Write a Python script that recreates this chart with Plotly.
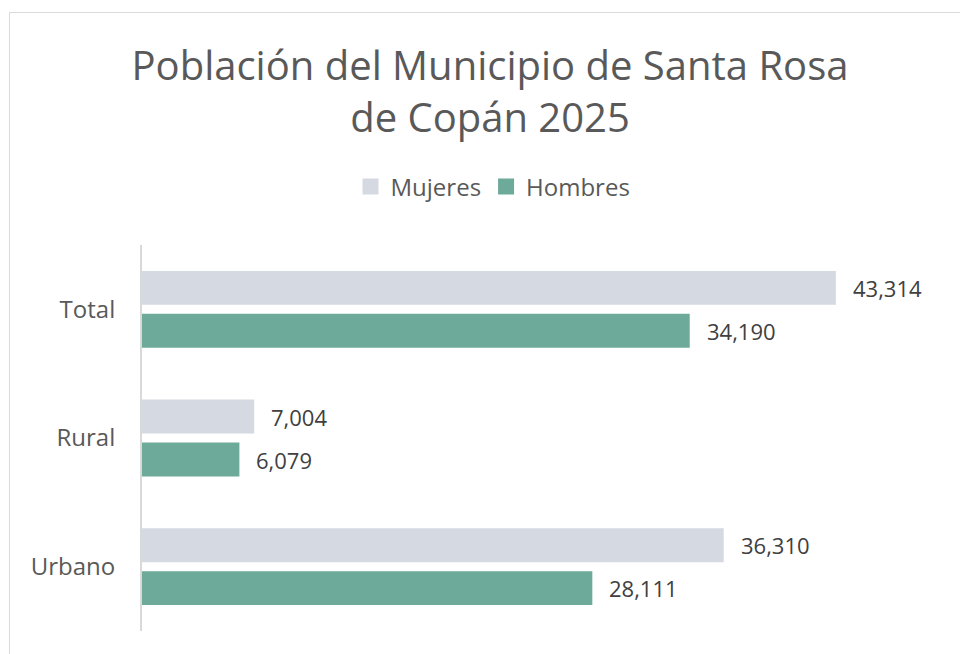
import plotly.graph_objects as go

categories = ["Total", "Rural", "Urbano"]
mujeres = [43314, 7004, 36310]
hombres = [34190, 6079, 28111]
series_names = ["Mujeres", "Hombres"]
title_text = "Población del Municipio de Santa Rosa<br>de Copán 2025"

col_m = "#d5d9e2"
col_h = "#6eaa9a"
FONT = "Open Sans"

fig = go.Figure()
for name, vals, col in ((series_names[0], mujeres, col_m), (series_names[1], hombres, col_h)):
    fig.add_trace(go.Bar(y=categories, x=vals, name=name, orientation="h", showlegend=False,
                         hoverinfo="x+y", marker=dict(color=col, line=dict(width=0))))
# legend entries with larger square symbols
for name, col in ((series_names[0], col_m), (series_names[1], col_h)):
    fig.add_trace(go.Scatter(x=[None], y=[None], mode="markers", name=name,
                             marker=dict(symbol="square", size=16, color=col)))

# data labels placed at end of each bar
annotations = []
for series, shift in ((mujeres, 21.5), (hombres, -21.5)):
    for cat, val in zip(categories, series):
        annotations.append(dict(x=val, y=cat, xref="x", yref="y", text=f"{val:,}",
                                showarrow=False, xanchor="left", yanchor="middle",
                                xshift=15, yshift=shift,
                                font=dict(family=FONT, size=22, color="#404040")))

W, H = 960, 654
ml, mr, mt, mb = 142, 17, 245, 23
pw, ph = W - ml - mr, H - mt - mb
def px_to_paper_x(px):
    return (px - ml) / pw
def py_to_paper_y(py):
    return (H - mb - py) / ph

shapes = [
    dict(type="line", xref="paper", yref="paper", x0=px_to_paper_x(9.5), x1=px_to_paper_x(9.5),
         y0=py_to_paper_y(12.5), y1=py_to_paper_y(700), line=dict(color="#d9d9d9", width=1)),
    dict(type="line", xref="paper", yref="paper", x0=px_to_paper_x(9.5), x1=px_to_paper_x(1000),
         y0=py_to_paper_y(12.5), y1=py_to_paper_y(12.5), line=dict(color="#d9d9d9", width=1)),
]

fig.update_layout(
    width=W, height=H,
    margin=dict(l=ml, r=mr, t=mt, b=mb),
    paper_bgcolor="white", plot_bgcolor="white",
    title=dict(text=title_text, x=490 / W, xanchor="center", y=1 - 80 / H, yanchor="middle",
               font=dict(family=FONT, size=40, color="#595959")),
    barmode="group", bargap=0.333, bargroupgap=0.21,
    legend=dict(orientation="h", x=px_to_paper_x(493), xanchor="center", y=py_to_paper_y(187),
                yanchor="middle", font=dict(family=FONT, size=24, color="#595959"),
                traceorder="normal"),
    xaxis=dict(range=[0, 50000], showgrid=False, zeroline=False, showticklabels=False,
               showline=False, fixedrange=True),
    yaxis=dict(autorange="reversed", showgrid=False, zeroline=False, showline=True,
               linecolor="#d9d9d9", linewidth=2, ticks="", ticklabelstandoff=20,
               tickfont=dict(family=FONT, size=24, color="#595959")),
    annotations=annotations,
    shapes=shapes,
    showlegend=True,
)

fig.write_html("out.html", config={"displayModeBar": False},
               post_script="document.body.style.margin='0';")
